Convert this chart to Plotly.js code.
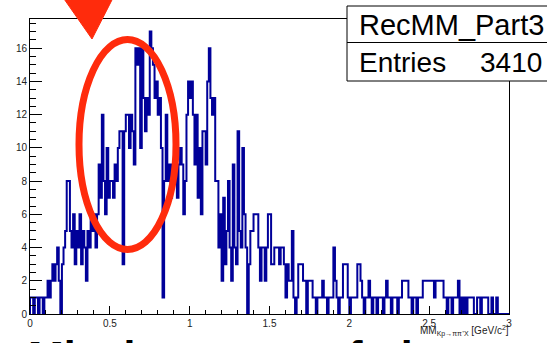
<!DOCTYPE html>
<html>
<head>
<meta charset="utf-8">
<script src="https://cdn.plot.ly/plotly-3.0.1.min.js"></script>
<style>html,body{margin:0;padding:0;background:#fff;}#chart{width:547px;height:343px;}</style>
</head>
<body>
<div id="chart"></div>
<script>
// ---- data ----
const histName = "RecMM_Part3";
const entries = 3410;
const binLow = 0;
const binHigh = 3;
// 300 bins of 0.01 GeV/c^2, counts per bin
const counts = [
  1,1,0,1,1,0,1,1,0,1,
  1,2,1,2,3,2,3,4,2,0,
  3,4,5,8,8,5,4,6,3,5,
  4,6,3,5,4,2,5,4,6,5,
  6,4,6,9,7,12,8,6,10,7,
  8,8,7,9,8,10,11,11,3,11,
  12,12,10,12,11,9,16,15,16,10,
  16,13,11,13,12,17,16,15,13,14,
  12,13,10,1,8,12,8,9,7,9,
  8,10,7,9,10,9,6,8,12,14,
  13,14,12,9,12,7,10,6,11,11,
  9,14,16,13,12,13,8,8,4,6,
  2,7,3,5,8,4,2,9,4,3,
  11,5,4,10,6,4,0,3,5,5,
  6,6,6,4,2,4,4,2,4,6,
  6,3,3,4,4,4,3,4,4,3,
  1,3,2,2,5,1,0,1,3,3,
  3,2,2,0,2,2,2,1,1,0,
  1,1,1,2,1,1,0,1,1,1,
  4,2,1,0,1,1,3,3,3,1,
  0,1,1,1,1,3,3,2,1,0,
  1,1,2,1,0,1,1,0,1,1,
  1,0,1,2,1,1,0,1,1,1,
  0,1,1,2,2,2,2,1,1,0,
  1,1,0,1,1,1,2,2,2,2,
  2,2,2,1,2,2,2,2,2,1,
  1,0,1,1,0,1,1,1,2,0,
  1,0,1,0,1,1,1,1,0,0,
  1,1,0,1,1,1,1,0,0,1,
  0,0,1,0,0,0,0,0,0,0
];
const xTickVals = [0, 0.5, 1, 1.5, 2, 2.5, 3];
const xTickText = ["0", "0.5", "1", "1.5", "2", "2.5", "3"];
const yTickVals = [0, 2, 4, 6, 8, 10, 12, 14, 16];
const xTitle = "MM<sub>Kp→ππ⁺X</sub> [GeV/c<sup>2</sup>]";
const footText = "Missing mass of pi";

// ---- build step outline ----
const nBins = counts.length;
const bw = (binHigh - binLow) / nBins;
const xs = [binLow], ys = [0];
for (let i = 0; i < nBins; i++) { xs.push(binLow + i * bw); ys.push(counts[i]); }
xs.push(binHigh); ys.push(counts[nBins - 1]);
xs.push(binHigh); ys.push(0);

// ---- pixel helpers for decorations outside the data area ----
const M = {l: 30, r: 38, t: 19, b: 29};
const W = 547, Hh = 343;
const pw = W - M.l - M.r, ph = Hh - M.t - M.b;
const px = p => (p - M.l) / pw;
const py = p => (Hh - M.b - p) / ph;

const red = '#ff2b0c';
const font = '"Liberation Sans", Arial, Helvetica, sans-serif';

const trace = {
  x: xs, y: ys, type: 'scatter', mode: 'lines',
  line: {shape: 'hv', color: '#000099', width: 2},
  hoverinfo: 'skip', showlegend: false
};

const layout = {
  width: W, height: Hh, autosize: false,
  margin: M,
  paper_bgcolor: '#fff', plot_bgcolor: '#fff',
  font: {family: font, color: '#000'},
  showlegend: false,
  xaxis: {
    range: [binLow, binHigh], tickvals: xTickVals, ticktext: xTickText,
    ticks: 'inside', ticklen: 8, tickwidth: 1, tickcolor: '#000',
    minor: {dtick: 0.1, tick0: 0, ticks: 'inside', ticklen: 4, tickcolor: '#000', showgrid: false},
    showline: true, linecolor: '#000', linewidth: 1, mirror: true,
    showgrid: false, zeroline: false,
    tickfont: {size: 10, color: '#222', family: font}
  },
  yaxis: {
    range: [0, 17.76], tickvals: yTickVals,
    ticks: 'inside', ticklen: 12, tickwidth: 1, tickcolor: '#000',
    minor: {dtick: 0.5, tick0: 0, ticks: 'inside', ticklen: 6, tickcolor: '#000', showgrid: false},
    showline: true, linecolor: '#000', linewidth: 1, mirror: true,
    showgrid: false, zeroline: false,
    tickfont: {size: 10, color: '#222', family: font}
  },
  shapes: [
    // stats box
    {type: 'rect', xref: 'paper', yref: 'paper', x0: px(347), x1: px(570), y0: py(6), y1: py(81),
     line: {color: '#000', width: 1}, fillcolor: '#fff', layer: 'above'},
    {type: 'line', xref: 'paper', yref: 'paper', x0: px(347), x1: px(570), y0: py(42.5), y1: py(42.5),
     line: {color: '#000', width: 1}, layer: 'above'},
    // red ellipse
    {type: 'circle', xref: 'paper', yref: 'paper', x0: px(79), x1: px(176), y0: py(249.5), y1: py(39.5),
     line: {color: red, width: 7}, fillcolor: 'rgba(0,0,0,0)', layer: 'above'},
    // red arrow head
    {type: 'path', xref: 'paper', yref: 'paper',
     path: `M ${px(62)} ${py(-4)} L ${px(92)} ${py(39)} L ${px(114)} ${py(-4)} Z`,
     line: {color: red, width: 1}, fillcolor: red, layer: 'above'}
  ],
  annotations: [
    {xref: 'paper', yref: 'paper', x: px(357), y: py(25), xanchor: 'left', yanchor: 'middle',
     text: histName, showarrow: false, font: {size: 29, family: font, color: '#000'}},
    {xref: 'paper', yref: 'paper', x: px(357), y: py(63), xanchor: 'left', yanchor: 'middle',
     text: 'Entries', showarrow: false, font: {size: 28, family: font, color: '#000'}},
    {xref: 'paper', yref: 'paper', x: px(544), y: py(63), xanchor: 'right', yanchor: 'middle',
     text: String(entries), showarrow: false, font: {size: 28, family: font, color: '#000'}},
    {xref: 'paper', yref: 'paper', x: px(511), y: py(331), xanchor: 'right', yanchor: 'middle',
     text: xTitle, showarrow: false, font: {size: 10, family: font, color: '#222'}},
    {xref: 'paper', yref: 'paper', x: px(26), y: py(330), xanchor: 'left', yanchor: 'top',
     text: '<b>' + footText + '</b>', showarrow: false, font: {size: 43, family: font, color: '#000'}}
  ]
};

Plotly.newPlot('chart', [trace], layout, {staticPlot: true, displayModeBar: false});
</script>
</body>
</html>
